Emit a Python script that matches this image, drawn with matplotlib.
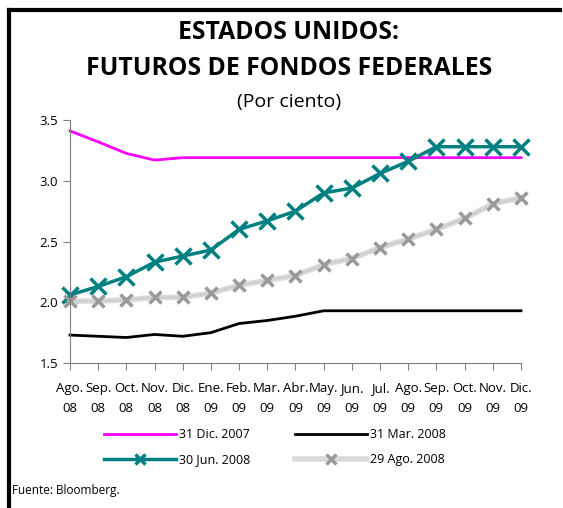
import matplotlib
matplotlib.use("Agg")
import matplotlib.pyplot as plt
from matplotlib.lines import Line2D

plt.rcParams['font.family'] = ['Open Sans', 'DejaVu Sans']

meses = ["Ago.", "Sep.", "Oct.", "Nov.", "Dic.", "Ene.", "Feb.", "Mar.", "Abr.",
         "May.", "Jun.", "Jul.", "Ago.", "Sep.", "Oct.", "Nov.", "Dic."]
anios = ["08"] * 5 + ["09"] * 12
etiquetas = [m + "\n" + a for m, a in zip(meses, anios)]

dic_2007 = [3.41, 3.32, 3.225, 3.17, 3.19, 3.19, 3.19, 3.19, 3.19,
            3.19, 3.19, 3.19, 3.19, 3.19, 3.19, 3.19, 3.19]
mar_2008 = [1.73, 1.72, 1.71, 1.735, 1.72, 1.75, 1.825, 1.85, 1.885,
            1.93, 1.93, 1.93, 1.93, 1.93, 1.93, 1.93, 1.93]
jun_2008 = [2.06, 2.13, 2.21, 2.33, 2.38, 2.43, 2.60, 2.67, 2.75,
            2.90, 2.94, 3.06, 3.16, 3.28, 3.28, 3.28, 3.28]
ago_2008 = [2.01, 2.01, 2.02, 2.04, 2.04, 2.075, 2.14, 2.18, 2.22,
            2.31, 2.36, 2.45, 2.52, 2.60, 2.69, 2.81, 2.86]

nombres = ["31 Dic. 2007", "31 Mar. 2008", "30 Jun. 2008", "29 Ago. 2008"]

x = list(range(len(meses)))

fig = plt.figure(figsize=(5.63, 5.08), dpi=100)
ax = fig.add_axes([0.1243, 0.2854, 0.8011, 0.4784])

ax.plot(x, dic_2007, color="#ff00ff", lw=2)
ax.plot(x, mar_2008, color="black", lw=2)
ax.plot(x, jun_2008, color="#008080", lw=2.5, marker="x", ms=12, mew=2.5)
ax.plot(x, ago_2008, color="#dadada", lw=4)
ax.plot(x, ago_2008, color="#bdbdbd", lw=1, ls=(0, (1, 1)))
ax.plot(x, ago_2008, ls="none", marker="x", ms=8, mew=2.5, color="#9a9a9a")

ax.set_xlim(0, len(x) - 1)
ax.set_ylim(1.5, 3.5)
ax.set_yticks([1.5, 2.0, 2.5, 3.0, 3.5])
ax.set_yticklabels(["1.5", "2.0", "2.5", "3.0", "3.5"])
ax.set_xticks(x)
ax.set_xticklabels(etiquetas, linespacing=1.7)
for s in ["top", "right"]:
    ax.spines[s].set_visible(False)
for s in ["left", "bottom"]:
    ax.spines[s].set_color("#808080")
ax.tick_params(axis="both", colors="#808080", labelcolor="black", labelsize=9.5,
               length=5, direction="out")
ax.tick_params(axis="x", pad=9)
for ln in ax.lines:
    ln.set_clip_on(False)

fig.text(0.513, 0.936, "ESTADOS UNIDOS:", ha="center", va="center",
         fontsize=17.8, fontweight="bold")
fig.text(0.513, 0.866, "FUTUROS DE FONDOS FEDERALES", ha="center", va="center",
         fontsize=17.8, fontweight="bold")
fig.text(0.513, 0.800, "(Por ciento)", ha="center", va="center", fontsize=14)

h_dic = Line2D([], [], color="#ff00ff", lw=2)
h_mar = Line2D([], [], color="black", lw=2)
h_jun = Line2D([], [], color="#008080", lw=2.5, marker="x", ms=7, mew=2.5)
h_ago = Line2D([], [], color="#dadada", lw=4, marker="x", ms=7, mew=2.5,
               markeredgecolor="#9a9a9a")
# legend fills by column, so order is row1/row2 per column
fig.legend([h_dic, h_jun, h_mar, h_ago],
           [nombres[0], nombres[2], nombres[1], nombres[3]],
           loc="center", bbox_to_anchor=(0.488, 0.12),
           ncol=2, frameon=False, fontsize=9, handlelength=5.8,
           handletextpad=0.2, columnspacing=3.6, labelspacing=0.95)

fig.text(0.022, 0.035, "Fuente: Bloomberg.", fontsize=8.5, va="center")

# marco
fig.add_artist(Line2D([0.016, 0.016], [0.0, 0.980], color="black", lw=3))
fig.add_artist(Line2D([0.016, 0.995], [0.980, 0.980], color="black", lw=3))

fig.savefig("out.png", dpi=100)
